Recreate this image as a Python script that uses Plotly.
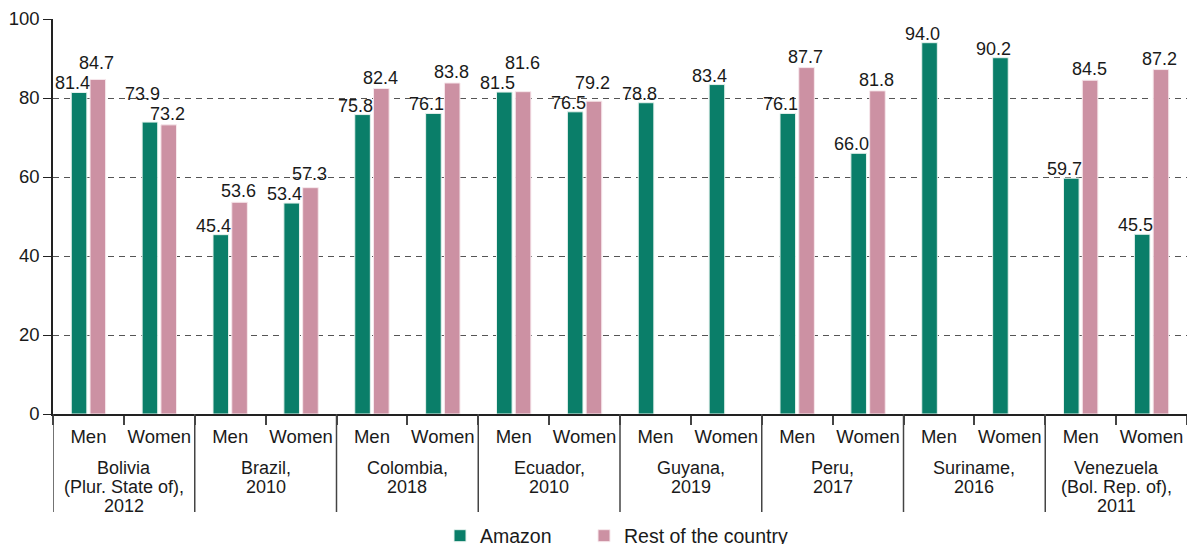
import plotly.graph_objects as go

countries = [
    "Bolivia|(Plur. State of),|2012",
    "Brazil,|2010",
    "Colombia,|2018",
    "Ecuador,|2010",
    "Guyana,|2019",
    "Peru,|2017",
    "Suriname,|2016",
    "Venezuela|(Bol. Rep. of),|2011",
]
sexes = ["Men", "Women"]

amazon = [81.4, 73.9, 45.4, 53.4, 75.8, 76.1, 81.5, 76.5,
          78.8, 83.4, 76.1, 66.0, 94.0, 90.2, 59.7, 45.5]
rest = [84.7, 73.2, 53.6, 57.3, 82.4, 83.8, 81.6, 79.2,
        None, None, 87.7, 81.8, None, None, 84.5, 87.2]

# category keys (unique) and their displayed tick text
keys = [f"{ci}-{s}" for ci in range(len(countries)) for s in sexes]
tick_text = [s for _ in countries for s in sexes]

FONT = "Liberation Sans, Arial, Helvetica, sans-serif"
TXT = "#1a1a1a"
GREEN = "#0a7e69"
PINK = "#cc91a3"

W, H = 1187, 544
M_L, M_R, M_T, M_B = 53, 0, 19, 130
PLOT_H = H - M_T - M_B
PLOT_W = W - M_L - M_R
YMAX = 100
PPU = PLOT_H / YMAX          # pixels per data unit
BARGAP, GROUPGAP = 0.47, 0.17
HALF_SLOT = (1 - BARGAP) / 4  # offset of each bar centre from category centre

fig = go.Figure()
fig.add_trace(go.Bar(
    x=keys, y=amazon, name="Amazon", legend="legend",
    marker=dict(color=GREEN, line=dict(color="#e6f2ee", width=1)),
))
fig.add_trace(go.Bar(
    x=keys, y=rest, name="Rest of the country", legend="legend2",
    marker=dict(color=PINK, line=dict(color="#f7e8ec", width=1)),
))

# value labels: placed above bars, stacked when they would collide
annotations = []
SEP = 20
for i, (a, r) in enumerate(zip(amazon, rest)):
    g_px = a * PPU - 3
    p_px = None if r is None else r * PPU - 1
    if p_px is not None and abs(p_px - g_px) < SEP:
        if r >= a:
            p_px = g_px + SEP
        else:
            g_px = p_px + SEP
    annotations.append(dict(
        x=i - HALF_SLOT, y=a, xref="x", yref="y", text=f"{a:.1f}",
        showarrow=False, xanchor="center", yanchor="bottom",
        xshift=-7, yshift=g_px - a * PPU,
        font=dict(size=18, color=TXT, family=FONT)))
    if r is not None:
        annotations.append(dict(
            x=i + HALF_SLOT, y=r, xref="x", yref="y", text=f"{r:.1f}",
            showarrow=False, xanchor="center", yanchor="bottom",
            xshift=-1, yshift=p_px - r * PPU,
            font=dict(size=18, color=TXT, family=FONT)))

# country group labels (one annotation per line for tight line spacing)
for ci, c in enumerate(countries):
    for li, line in enumerate(c.split("|")):
        annotations.append(dict(
            x=ci * len(sexes) + (len(sexes) - 1) / 2, y=0, xref="x", yref="y",
            text=line, showarrow=False, xanchor="center", yanchor="middle",
            yshift=-(54 + 19 * li),
            font=dict(size=18, color=TXT, family=FONT)))

# group dividers below the axis
shapes = []
for ci in range(len(countries)):
    xb = ci * len(sexes) - 0.5
    shapes.append(dict(type="line", xref="x", yref="paper",
                       x0=xb, x1=xb, y0=0, y1=-98 / PLOT_H,
                       line=dict(color="#444444", width=1.5)))

leg_common = dict(orientation="h", yref="container", y=1 - 536 / H,
                  yanchor="middle", xref="container", xanchor="left",
                  font=dict(size=19.5, color=TXT, family=FONT),
                  bgcolor="rgba(0,0,0,0)")

fig.update_layout(
    width=W, height=H,
    margin=dict(l=M_L, r=M_R, t=M_T, b=M_B),
    paper_bgcolor="white", plot_bgcolor="white",
    barmode="group", bargap=BARGAP, bargroupgap=GROUPGAP,
    font=dict(family=FONT, size=18, color=TXT),
    showlegend=True,
    legend=dict(x=440 / W, **leg_common),
    legend2=dict(x=584 / W, **leg_common),
    annotations=annotations,
    shapes=shapes,
)
fig.update_yaxes(
    range=[0, YMAX], dtick=20, automargin=False,
    showgrid=True, gridcolor="#555555", griddash="6px,5px", gridwidth=1,
    showline=True, linecolor="#222222", linewidth=1.5,
    ticks="outside", ticklen=8, tickcolor="#222222",
    tickfont=dict(size=18.5, color=TXT, family=FONT),
    zeroline=False,
)
fig.update_xaxes(
    type="category", automargin=False,
    tickmode="array", tickvals=keys, ticktext=tick_text,
    tickson="boundaries", tickangle=0,
    showline=True, linecolor="#222222", linewidth=1.5,
    ticks="outside", ticklen=9, tickcolor="#444444", tickwidth=1.5,
    ticklabelstandoff=5,
    tickfont=dict(size=18.5, color=TXT, family=FONT),
    showgrid=False,
    range=[-0.5, len(keys) - 0.5],
)

fig.write_html("out.html", config={"displayModeBar": False},
               post_script="document.body.style.margin='0';")
